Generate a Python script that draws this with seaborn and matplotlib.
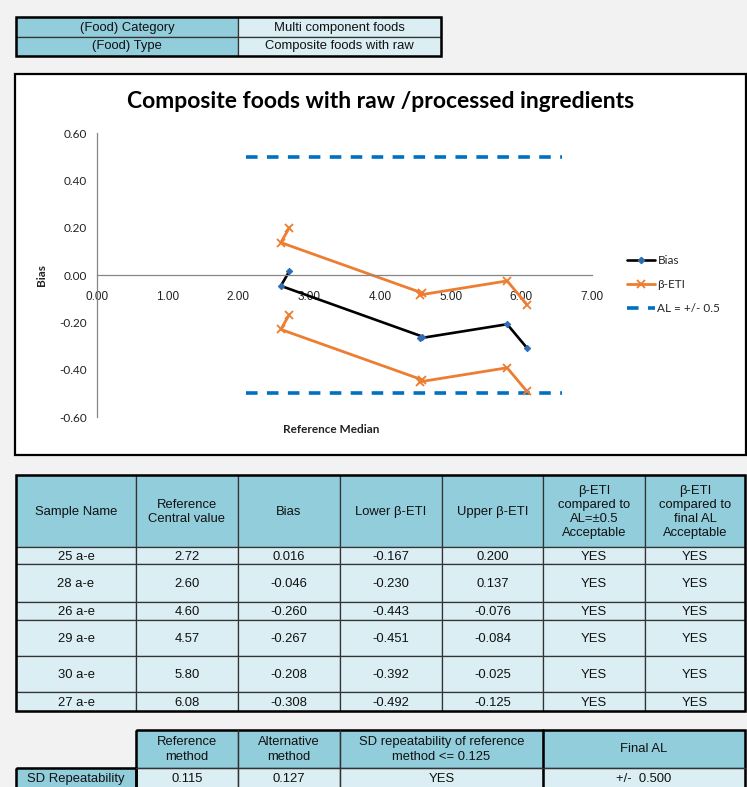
import matplotlib
matplotlib.use("Agg")
import matplotlib.pyplot as plt
from matplotlib.patches import Rectangle
from matplotlib.lines import Line2D
import seaborn as sns
import pandas as pd

# ---------------- data ----------------
food_category = "Multi component foods"
food_type = "Composite foods with raw"
chart_title = "Composite foods with raw /processed ingredients"

samples = ["25 a-e", "28 a-e", "26 a-e", "29 a-e", "30 a-e", "27 a-e"]
ref_central = [2.72, 2.60, 4.60, 4.57, 5.80, 6.08]
bias = [0.016, -0.046, -0.260, -0.267, -0.208, -0.308]
lower_eti = [-0.167, -0.230, -0.443, -0.451, -0.392, -0.492]
upper_eti = [0.200, 0.137, -0.076, -0.084, -0.025, -0.125]
accept_al05 = ["YES", "YES", "YES", "YES", "YES", "YES"]
accept_final = ["YES", "YES", "YES", "YES", "YES", "YES"]

al_x = [2.10, 6.58]
al_level = 0.5

x_ticks = [0, 1, 2, 3, 4, 5, 6, 7]
y_ticks = [-0.6, -0.4, -0.2, 0.0, 0.2, 0.4, 0.6]

sd_ref = 0.115
sd_alt = 0.127
sd_ok = "YES"
final_al = 0.500

# ---------------- figure ----------------
sns.set_theme(style="white")
plt.rcParams["font.family"] = ["Liberation Sans", "DejaVu Sans"]

W, H = 747, 787
fig = plt.figure(figsize=(W / 100, H / 100), dpi=100, facecolor="#f2f2f2")

bg = fig.add_axes([0, 0, 1, 1], zorder=0)
bg.set_xlim(0, W)
bg.set_ylim(H, 0)
bg.axis("off")
bg.set_facecolor("none")

DARK = "#92cddc"
LIGHT = "#daeef3"
TFS = 9.4
chart_font = ["Lato", "DejaVu Sans"]


def cell(x0, y0, x1, y1, color, lw=0.9, ec="#333333"):
    bg.add_patch(Rectangle((x0, y0), x1 - x0, y1 - y0, facecolor=color,
                           edgecolor=ec, linewidth=lw, zorder=1))


def outline(x0, y0, x1, y1, lw=1.8):
    bg.add_patch(Rectangle((x0, y0), x1 - x0, y1 - y0, facecolor="none",
                           edgecolor="black", linewidth=lw, zorder=3))


def txt(x, y, s, **kw):
    bg.text(x, y, s, ha="center", va="center", fontsize=TFS, color="#111111",
            linespacing=1.25, zorder=4, **kw)


# ---- top table ----
cell(16, 17, 238, 37, DARK)
cell(238, 17, 441, 37, LIGHT)
cell(16, 37, 238, 56, DARK)
cell(238, 37, 441, 56, LIGHT)
outline(16, 17, 441, 56)
txt(127, 27.5, "(Food) Category")
txt(339.5, 27.5, food_category)
txt(127, 46.5, "(Food) Type")
txt(339.5, 46.5, food_type)

# ---- chart box ----
bg.add_patch(Rectangle((15, 74), 731, 381, facecolor="white",
                       edgecolor="black", linewidth=1.6, zorder=1))

# ---- lower table ----
cols = [16, 136, 238, 340, 442, 543, 645, 745]
rows = [475, 547, 564, 602, 620, 656, 692, 711]
headers = ["Sample Name", "Reference\nCentral value", "Bias", "Lower \u03b2-ETI",
           "Upper \u03b2-ETI", "\u03b2-ETI\ncompared to\nAL=\u00b10.5\nAcceptable",
           "\u03b2-ETI\ncompared to\nfinal AL\nAcceptable"]
for j in range(7):
    cell(cols[j], rows[0], cols[j + 1], rows[1], DARK)
    txt((cols[j] + cols[j + 1]) / 2, (rows[0] + rows[1]) / 2 + 1, headers[j])
for i in range(6):
    vals = [samples[i], f"{ref_central[i]:.2f}", f"{bias[i]:.3f}",
            f"{lower_eti[i]:.3f}", f"{upper_eti[i]:.3f}", accept_al05[i],
            accept_final[i]]
    for j in range(7):
        cell(cols[j], rows[i + 1], cols[j + 1], rows[i + 2], LIGHT)
        txt((cols[j] + cols[j + 1]) / 2, (rows[i + 1] + rows[i + 2]) / 2 + 1, vals[j])
outline(16, 475, 745, 711)

# ---- bottom table ----
bcols = [136, 238, 340, 543, 745]
bheaders = ["Reference\nmethod", "Alternative\nmethod",
            "SD repeatability of reference\nmethod <= 0.125", "Final AL"]
bvals = [f"{sd_ref:.3f}", f"{sd_alt:.3f}", sd_ok, f"+/-  {final_al:.3f}"]
for j in range(4):
    cell(bcols[j], 730, bcols[j + 1], 768, DARK)
    txt((bcols[j] + bcols[j + 1]) / 2, 749.5, bheaders[j])
    cell(bcols[j], 768, bcols[j + 1], 795, LIGHT)
    txt((bcols[j] + bcols[j + 1]) / 2, 779, bvals[j])
cell(16, 768, 136, 795, DARK)
txt(76, 779, "SD Repeatability")
outline(136, 730, 745, 795)
outline(16, 768, 136, 795)
for xb in [238, 340]:
    bg.plot([xb, xb], [730, 795], color="#333333", lw=0.9, zorder=3)
bg.plot([543, 543], [730, 795], color="black", lw=1.8, zorder=3)
bg.plot([136, 745], [768, 768], color="#333333", lw=0.9, zorder=3)

# ---------------- chart ----------------
L, R, T, B = 97, 592, 133, 417
ax = fig.add_axes([L / W, 1 - B / H, (R - L) / W, (B - T) / H], zorder=2)
ax.set_facecolor("none")

df = pd.DataFrame({"ref": ref_central, "bias": bias,
                   "lo": lower_eti, "up": upper_eti})
al_df = pd.DataFrame({"x": al_x + al_x,
                      "y": [al_level, al_level, -al_level, -al_level],
                      "g": ["u", "u", "l", "l"]})

ORANGE = "#ed7d31"
BLUE = "#0070c0"

for g in ["u", "l"]:
    sns.lineplot(data=al_df[al_df.g == g], x="x", y="y", ax=ax, color=BLUE,
                 lw=2.6, dashes=False, sort=False, estimator=None, legend=False)
for ln in ax.get_lines():
    ln.set_dashes([3.2, 2.6])

sns.lineplot(data=df, x="ref", y="up", ax=ax, color=ORANGE, lw=2.0, sort=False,
             estimator=None, marker="x", markersize=5.5, markeredgewidth=1.3,
             markeredgecolor=ORANGE, legend=False)
sns.lineplot(data=df, x="ref", y="lo", ax=ax, color=ORANGE, lw=2.0, sort=False,
             estimator=None, marker="x", markersize=5.5, markeredgewidth=1.3,
             markeredgecolor=ORANGE, legend=False)
sns.lineplot(data=df, x="ref", y="bias", ax=ax, color="black", lw=1.9, sort=False,
             estimator=None, marker="D", markersize=3.2, markerfacecolor="#2e6db4",
             markeredgecolor="#2e6db4", legend=False)

ax.set_xlim(0, 7)
ax.set_ylim(-0.6, 0.6)
ax.set_xticks(x_ticks)
ax.set_yticks(y_ticks)
ax.set_xticklabels([f"{v:.2f}" for v in x_ticks], fontfamily=chart_font)
ax.set_yticklabels([f"{v:.2f}" for v in y_ticks], fontfamily=chart_font)
ax.set_xlabel("")
ax.set_ylabel("")
for s in ["top", "right"]:
    ax.spines[s].set_visible(False)
ax.spines["bottom"].set_position(("data", 0))
for s in ["left", "bottom"]:
    ax.spines[s].set_color("#868686")
    ax.spines[s].set_linewidth(0.9)
ax.tick_params(axis="both", which="major", direction="out", length=3.5,
               width=0.9, color="#868686", labelsize=8.5, labelcolor="#222222")
ax.tick_params(axis="x", pad=8)
ax.tick_params(axis="y", pad=4)
ax.grid(False)

fig.text(381 / W, 1 - 101 / H, chart_title, ha="center", va="center",
         fontsize=16.5, fontweight="bold", family=chart_font, color="black")
fig.text(331 / W, 1 - 429 / H, "Reference Median", ha="center", va="center",
         fontsize=8.5, fontweight="bold", family=chart_font, color="#222222")
fig.text(42 / W, 1 - 275 / H, "Bias", ha="center", va="center", rotation=90,
         fontsize=8.5, fontweight="bold", family=chart_font, color="#222222")

handles = [
    Line2D([], [], color="black", lw=1.9, marker="D", markersize=3.2,
           markerfacecolor="#2e6db4", markeredgecolor="#2e6db4"),
    Line2D([], [], color=ORANGE, lw=2.0, marker="x", markersize=5.5,
           markeredgewidth=1.3),
    Line2D([], [], color=BLUE, lw=2.6, dashes=[3.2, 2.6]),
]
fig.legend(handles, ["Bias", "\u03b2-ETI", "AL = +/- 0.5"], loc="upper left",
           bbox_to_anchor=(622 / W, 1 - 250 / H), frameon=False,
           prop={"family": chart_font, "size": 8.5}, handlelength=2.4,
           handletextpad=0.2, labelspacing=1.1, borderaxespad=0)

fig.savefig("out.png", dpi=100, facecolor=fig.get_facecolor())
